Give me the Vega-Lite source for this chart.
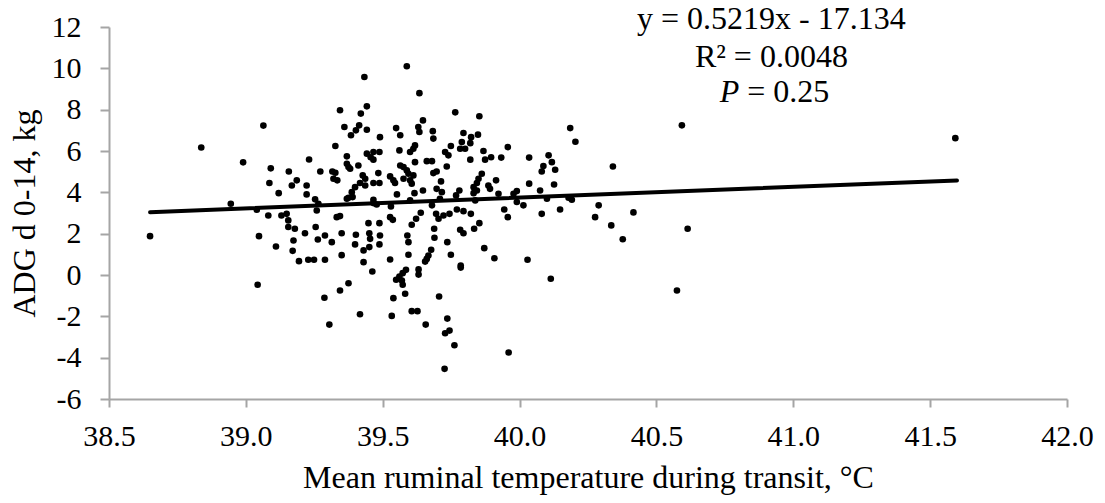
{
  "$schema": "https://vega.github.io/schema/vega-lite/v6.json",
  "width": 958,
  "height": 372,
  "autosize": {"type": "none"},
  "padding": {"left": 109, "top": 27, "right": 38, "bottom": 104},
  "background": "white",
  "config": {
    "view": {"stroke": null},
    "font": "Liberation Serif",
    "axis": {
      "labelFont": "Liberation Serif",
      "titleFont": "Liberation Serif",
      "labelColor": "black",
      "titleColor": "black",
      "titleFontWeight": "normal",
      "domainColor": "#a5a5a5",
      "tickColor": "#a5a5a5",
      "domainWidth": 2,
      "tickWidth": 2,
      "grid": false
    }
  },
  "datasets": {
    "pts": [
      {"temp": 39.344, "adg": 7.97}, {"temp": 39.064, "adg": 7.23}, {"temp": 39.36, "adg": 7.16}, {"temp": 39.384, "adg": 6.76}, {"temp": 38.837, "adg": 6.17},
      {"temp": 39.327, "adg": 6.24}, {"temp": 39.369, "adg": 5.74}, {"temp": 39.369, "adg": 5.38}, {"temp": 39.375, "adg": 5.22}, {"temp": 38.99, "adg": 5.45},
      {"temp": 39.231, "adg": 5.59}, {"temp": 39.091, "adg": 5.16}, {"temp": 39.157, "adg": 5.01}, {"temp": 39.272, "adg": 5.01}, {"temp": 39.316, "adg": 5.01},
      {"temp": 39.327, "adg": 4.95}, {"temp": 39.32, "adg": 4.66}, {"temp": 39.334, "adg": 4.58}, {"temp": 39.186, "adg": 4.58}, {"temp": 39.168, "adg": 4.33},
      {"temp": 39.086, "adg": 4.45}, {"temp": 39.222, "adg": 4.33}, {"temp": 39.12, "adg": 3.96}, {"temp": 39.222, "adg": 3.9}, {"temp": 39.253, "adg": 3.66},
      {"temp": 38.65, "adg": 1.88}, {"temp": 38.945, "adg": 3.45}, {"temp": 39.04, "adg": 3.16}, {"temp": 39.082, "adg": 2.88}, {"temp": 39.13, "adg": 2.88},
      {"temp": 39.149, "adg": 2.96}, {"temp": 39.155, "adg": 2.64}, {"temp": 39.155, "adg": 2.32}, {"temp": 39.179, "adg": 2.24}, {"temp": 39.265, "adg": 3.45},
      {"temp": 39.259, "adg": 3.12}, {"temp": 39.369, "adg": 3.69}, {"temp": 39.332, "adg": 2.8}, {"temp": 39.344, "adg": 2.85}, {"temp": 39.048, "adg": 1.88},
      {"temp": 39.11, "adg": 1.38}, {"temp": 39.174, "adg": 1.67}, {"temp": 39.171, "adg": 1.17}, {"temp": 39.216, "adg": 2.02}, {"temp": 39.255, "adg": 2.32},
      {"temp": 39.263, "adg": 1.72}, {"temp": 39.289, "adg": 1.91}, {"temp": 39.314, "adg": 1.59}, {"temp": 39.35, "adg": 2.02}, {"temp": 39.35, "adg": 0.96},
      {"temp": 39.194, "adg": 0.67}, {"temp": 39.228, "adg": 0.74}, {"temp": 39.249, "adg": 0.74}, {"temp": 39.289, "adg": 0.74}, {"temp": 39.043, "adg": -0.47},
      {"temp": 39.375, "adg": -0.4}, {"temp": 39.344, "adg": -0.75}, {"temp": 39.287, "adg": -1.1}, {"temp": 39.305, "adg": -2.4},
      {"temp": 39.588, "adg": 10.1}, {"temp": 39.433, "adg": 9.58}, {"temp": 39.634, "adg": 8.8}, {"temp": 39.442, "adg": 8.16}, {"temp": 39.42, "adg": 7.81},
      {"temp": 39.765, "adg": 7.87}, {"temp": 39.853, "adg": 7.68}, {"temp": 39.647, "adg": 7.48}, {"temp": 39.414, "adg": 7.24}, {"temp": 39.402, "adg": 7.0},
      {"temp": 39.442, "adg": 7.03}, {"temp": 39.549, "adg": 7.11}, {"temp": 39.63, "adg": 7.16}, {"temp": 39.634, "adg": 6.92}, {"temp": 39.683, "adg": 6.96},
      {"temp": 39.564, "adg": 6.76}, {"temp": 39.49, "adg": 6.67}, {"temp": 39.685, "adg": 6.6}, {"temp": 39.795, "adg": 6.87}, {"temp": 39.823, "adg": 6.67},
      {"temp": 39.848, "adg": 6.79}, {"temp": 39.789, "adg": 6.43}, {"temp": 39.82, "adg": 6.38}, {"temp": 39.618, "adg": 6.27}, {"temp": 39.612, "adg": 6.11},
      {"temp": 39.6, "adg": 5.95}, {"temp": 39.749, "adg": 6.24}, {"temp": 39.783, "adg": 6.11}, {"temp": 39.801, "adg": 6.11}, {"temp": 39.957, "adg": 6.19},
      {"temp": 39.561, "adg": 6.03}, {"temp": 39.466, "adg": 5.95}, {"temp": 39.488, "adg": 5.95}, {"temp": 39.442, "adg": 5.87}, {"temp": 39.456, "adg": 5.7},
      {"temp": 39.466, "adg": 5.58}, {"temp": 39.728, "adg": 5.95}, {"temp": 39.74, "adg": 5.79}, {"temp": 39.868, "adg": 6.0}, {"temp": 39.896, "adg": 5.7},
      {"temp": 39.874, "adg": 5.58}, {"temp": 39.933, "adg": 5.68}, {"temp": 39.82, "adg": 5.58}, {"temp": 39.381, "adg": 5.14}, {"temp": 39.411, "adg": 5.3},
      {"temp": 39.427, "adg": 4.82}, {"temp": 39.436, "adg": 4.66}, {"temp": 39.417, "adg": 4.45}, {"temp": 39.399, "adg": 4.25}, {"temp": 39.387, "adg": 4.01},
      {"temp": 39.436, "adg": 4.33}, {"temp": 39.484, "adg": 4.93}, {"temp": 39.466, "adg": 4.45}, {"temp": 39.488, "adg": 4.45}, {"temp": 39.618, "adg": 5.46},
      {"temp": 39.564, "adg": 5.3}, {"temp": 39.576, "adg": 5.22}, {"temp": 39.588, "adg": 5.06}, {"temp": 39.594, "adg": 4.9}, {"temp": 39.612, "adg": 4.82},
      {"temp": 39.661, "adg": 5.51}, {"temp": 39.68, "adg": 5.51}, {"temp": 39.734, "adg": 5.25}, {"temp": 39.685, "adg": 4.93}, {"temp": 39.697, "adg": 5.01},
      {"temp": 39.527, "adg": 4.77}, {"temp": 39.539, "adg": 4.58}, {"temp": 39.545, "adg": 4.45}, {"temp": 39.576, "adg": 4.66}, {"temp": 39.6, "adg": 4.58},
      {"temp": 39.606, "adg": 4.42}, {"temp": 39.713, "adg": 4.53}, {"temp": 39.697, "adg": 4.17}, {"temp": 39.716, "adg": 4.01}, {"temp": 39.862, "adg": 4.9},
      {"temp": 39.85, "adg": 4.66}, {"temp": 39.844, "adg": 4.45}, {"temp": 39.832, "adg": 4.25}, {"temp": 39.844, "adg": 4.09}, {"temp": 39.886, "adg": 4.33},
      {"temp": 39.892, "adg": 4.17}, {"temp": 39.914, "adg": 4.58}, {"temp": 39.78, "adg": 4.09}, {"temp": 39.768, "adg": 3.85}, {"temp": 39.552, "adg": 3.9},
      {"temp": 39.616, "adg": 3.96}, {"temp": 39.647, "adg": 4.09}, {"temp": 39.39, "adg": 3.77}, {"temp": 39.466, "adg": 3.64}, {"temp": 39.923, "adg": 3.93},
      {"temp": 39.832, "adg": 3.96},
      {"temp": 39.375, "adg": 3.74}, {"temp": 39.6, "adg": 3.61}, {"temp": 39.709, "adg": 3.69}, {"temp": 39.838, "adg": 3.61}, {"temp": 39.466, "adg": 3.48},
      {"temp": 39.478, "adg": 3.41}, {"temp": 39.53, "adg": 3.32}, {"temp": 39.68, "adg": 3.37}, {"temp": 39.527, "adg": 2.8}, {"temp": 39.537, "adg": 2.67},
      {"temp": 39.448, "adg": 2.51}, {"temp": 39.488, "adg": 2.51}, {"temp": 39.606, "adg": 2.43}, {"temp": 39.622, "adg": 2.72}, {"temp": 39.639, "adg": 3.01},
      {"temp": 39.695, "adg": 2.96}, {"temp": 39.704, "adg": 2.72}, {"temp": 39.722, "adg": 2.88}, {"temp": 39.744, "adg": 2.96}, {"temp": 39.771, "adg": 3.17},
      {"temp": 39.795, "adg": 3.09}, {"temp": 39.822, "adg": 2.96}, {"temp": 39.853, "adg": 2.51}, {"temp": 39.834, "adg": 2.24}, {"temp": 39.783, "adg": 2.19},
      {"temp": 39.795, "adg": 2.02}, {"temp": 39.944, "adg": 3.17}, {"temp": 39.957, "adg": 2.8}, {"temp": 39.402, "adg": 1.95}, {"temp": 39.399, "adg": 1.48},
      {"temp": 39.43, "adg": 1.19}, {"temp": 39.451, "adg": 2.02}, {"temp": 39.454, "adg": 1.75}, {"temp": 39.451, "adg": 1.35}, {"temp": 39.49, "adg": 1.91},
      {"temp": 39.488, "adg": 1.48}, {"temp": 39.43, "adg": 0.62}, {"temp": 39.462, "adg": 0.17}, {"temp": 39.59, "adg": 1.91}, {"temp": 39.594, "adg": 1.59},
      {"temp": 39.594, "adg": 0.98}, {"temp": 39.527, "adg": 0.75}, {"temp": 39.688, "adg": 2.24}, {"temp": 39.689, "adg": 1.8}, {"temp": 39.736, "adg": 1.59},
      {"temp": 39.749, "adg": 0.98}, {"temp": 39.677, "adg": 1.22}, {"temp": 39.667, "adg": 0.94}, {"temp": 39.661, "adg": 0.78}, {"temp": 39.655, "adg": 0.65},
      {"temp": 39.631, "adg": 0.27}, {"temp": 39.631, "adg": 0.02}, {"temp": 39.585, "adg": 0.25}, {"temp": 39.573, "adg": 0.09}, {"temp": 39.561, "adg": -0.07},
      {"temp": 39.549, "adg": -0.23}, {"temp": 39.57, "adg": -0.27}, {"temp": 39.573, "adg": -0.47}, {"temp": 39.582, "adg": -0.91}, {"temp": 39.539, "adg": -1.12},
      {"temp": 39.785, "adg": 0.36}, {"temp": 39.785, "adg": 0.46}, {"temp": 39.871, "adg": 1.3}, {"temp": 39.908, "adg": 0.81}, {"temp": 39.417, "adg": -1.9},
      {"temp": 39.533, "adg": -1.98}, {"temp": 39.606, "adg": -1.75}, {"temp": 39.627, "adg": -1.75}, {"temp": 39.706, "adg": -1.04}, {"temp": 39.657, "adg": -2.4},
      {"temp": 39.736, "adg": -2.11}, {"temp": 39.744, "adg": -2.69}, {"temp": 39.728, "adg": -2.82}, {"temp": 39.762, "adg": -3.4}, {"temp": 39.726, "adg": -4.54},
      {"temp": 39.96, "adg": -3.75},
      {"temp": 40.593, "adg": 7.24}, {"temp": 40.185, "adg": 7.11}, {"temp": 40.204, "adg": 6.45}, {"temp": 40.035, "adg": 5.68}, {"temp": 40.106, "adg": 5.79},
      {"temp": 40.118, "adg": 5.46}, {"temp": 40.087, "adg": 5.27}, {"temp": 40.081, "adg": 5.01}, {"temp": 40.13, "adg": 5.09}, {"temp": 40.341, "adg": 5.25},
      {"temp": 40.035, "adg": 4.42}, {"temp": 40.126, "adg": 4.38}, {"temp": 39.99, "adg": 4.06}, {"temp": 39.978, "adg": 3.93}, {"temp": 40.075, "adg": 4.09},
      {"temp": 40.1, "adg": 3.69}, {"temp": 40.179, "adg": 3.74},
      {"temp": 39.99, "adg": 3.53}, {"temp": 40.191, "adg": 3.64}, {"temp": 40.014, "adg": 3.37}, {"temp": 40.081, "adg": 2.96}, {"temp": 40.148, "adg": 3.17},
      {"temp": 40.276, "adg": 2.8}, {"temp": 40.289, "adg": 3.37}, {"temp": 40.335, "adg": 2.4}, {"temp": 40.377, "adg": 1.73}, {"temp": 40.416, "adg": 3.03},
      {"temp": 40.614, "adg": 2.24}, {"temp": 40.029, "adg": 0.74}, {"temp": 40.114, "adg": -0.18}, {"temp": 40.575, "adg": -0.75},
      {"temp": 41.592, "adg": 6.62}
    ],
    "trend": [
      {"temp": 38.65, "adg": 3.038},
      {"temp": 41.598, "adg": 4.576}
    ],
    "notes": [
      {"temp": 40.92, "adg": 11.92, "label": "y = 0.5219x - 17.134"},
      {"temp": 40.92, "adg": 10.06, "label": "R² = 0.0048"}
    ],
    "pnote": [
      {"temp": 40.8026, "adg": 8.37, "sym": "P", "rest": " = 0.25"}
    ]
  },
  "layer": [
    {
      "data": {"name": "pts"},
      "mark": {"type": "point", "filled": true, "color": "black", "size": 44, "opacity": 1},
      "encoding": {
        "x": {
          "field": "temp", "type": "quantitative",
          "scale": {"domain": [38.5, 42.0], "nice": false, "zero": false},
          "axis": {
            "title": "Mean ruminal temperature during transit, °C",
            "values": [38.5, 39.0, 39.5, 40.0, 40.5, 41.0, 41.5, 42.0],
            "format": ".1f",
            "labelFontSize": 30,
            "titleFontSize": 32,
            "tickSize": 8,
            "labelPadding": 14,
            "titlePadding": 11,
            "labelFlush": false,
            "labelOverlap": false
          }
        },
        "y": {
          "field": "adg", "type": "quantitative",
          "scale": {"domain": [-6, 12], "nice": false, "zero": false},
          "axis": {
            "title": "ADG d 0-14, kg",
            "values": [-6, -4, -2, 0, 2, 4, 6, 8, 10, 12],
            "labelExpr": "toString(datum.value)",
            "labelFontSize": 30,
            "titleFontSize": 32,
            "tickSize": 9,
            "labelPadding": 19,
            "titlePadding": 10,
            "labelFlush": false,
            "labelOverlap": false
          }
        }
      }
    },
    {
      "data": {"name": "trend"},
      "mark": {"type": "line", "color": "black", "strokeWidth": 4, "strokeCap": "round"},
      "encoding": {
        "x": {"field": "temp", "type": "quantitative"},
        "y": {"field": "adg", "type": "quantitative"}
      }
    },
    {
      "data": {"name": "notes"},
      "mark": {"type": "text", "font": "Liberation Serif", "fontSize": 32, "align": "center", "baseline": "alphabetic", "color": "black"},
      "encoding": {
        "x": {"field": "temp", "type": "quantitative"},
        "y": {"field": "adg", "type": "quantitative"},
        "text": {"field": "label"}
      }
    },
    {
      "data": {"name": "pnote"},
      "mark": {"type": "text", "font": "Liberation Serif", "fontSize": 32, "fontStyle": "italic", "align": "right", "baseline": "alphabetic", "color": "black"},
      "encoding": {
        "x": {"field": "temp", "type": "quantitative"},
        "y": {"field": "adg", "type": "quantitative"},
        "text": {"field": "sym"}
      }
    },
    {
      "data": {"name": "pnote"},
      "mark": {"type": "text", "font": "Liberation Serif", "fontSize": 32, "align": "left", "baseline": "alphabetic", "color": "black", "dx": 8},
      "encoding": {
        "x": {"field": "temp", "type": "quantitative"},
        "y": {"field": "adg", "type": "quantitative"},
        "text": {"field": "rest"}
      }
    }
  ]
}
